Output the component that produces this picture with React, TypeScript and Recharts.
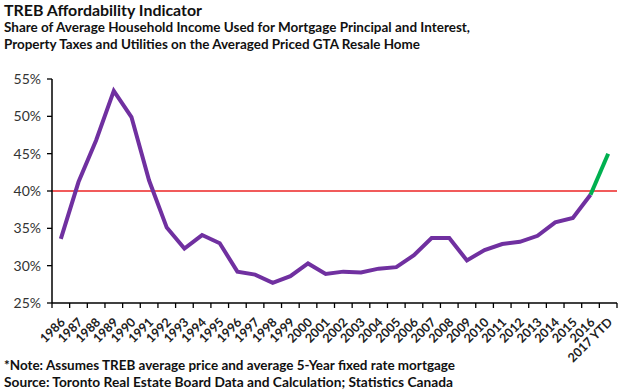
import React from 'react';
import { LineChart, Line, XAxis, YAxis, ReferenceLine } from 'recharts';

const years = [
  '1986', '1987', '1988', '1989', '1990', '1991', '1992', '1993', '1994', '1995', '1996',
  '1997', '1998', '1999', '2000', '2001', '2002', '2003', '2004', '2005', '2006', '2007',
  '2008', '2009', '2010', '2011', '2012', '2013', '2014', '2015', '2016', '2017 YTD',
];

// share of income (%), purple history line up to 2016
const history = [
  33.6, 41.2, 46.8, 53.4, 49.9, 41.4, 35.1, 32.3, 34.1, 33.0, 29.2,
  28.8, 27.7, 28.6, 30.3, 28.9, 29.2, 29.1, 29.6, 29.8, 31.4, 33.7,
  33.7, 30.7, 32.1, 32.9, 33.2, 34.0, 35.8, 36.4, 39.5, null,
];

// green segment 2016 -> 2017 YTD
const ytd = [
  null, null, null, null, null, null, null, null, null, null, null,
  null, null, null, null, null, null, null, null, null, null, null,
  null, null, null, null, null, null, null, null, 39.5, 45.0,
];

const yTicks = [25, 30, 35, 40, 45, 50, 55];
const threshold = 40;

const data = years.map((year, i) => ({ year, history: history[i], ytd: ytd[i] }));

const W = 620;
const H = 391;
const MARGIN = { top: 79, right: 3, left: 0, bottom: 0 };
const Y_AXIS_W = 52;
const X_AXIS_H = 88;
const STEP = (W - MARGIN.left - MARGIN.right - Y_AXIS_W) / years.length;

const FONT = 'Lato, "Open Sans", sans-serif';

const XTick = (props: any) => {
  const { x, y, payload, index } = props;
  const half = STEP / 2;
  const ax = x + 5;
  const ay = y + 20;
  return (
    <g>
      <line x1={x - half} x2={x - half} y1={y} y2={y + 5} stroke="#000" strokeWidth={1.3} />
      {index === years.length - 1 && (
        <line x1={x + half} x2={x + half} y1={y} y2={y + 5} stroke="#000" strokeWidth={1.3} />
      )}
      <text
        x={ax}
        y={ay}
        transform={`rotate(-45, ${ax}, ${ay})`}
        textAnchor="end"
        fontSize={12.5}
        fontWeight="bold"
        fontFamily={FONT}
        fill="#222"
      >
        {payload.value}
      </text>
    </g>
  );
};

const Caption = ({ x, y, size, len, children }: any) => (
  <text
    x={x}
    y={y}
    fontSize={size}
    fontWeight="bold"
    fontFamily={FONT}
    fill="#111"
    textLength={len}
    lengthAdjust="spacingAndGlyphs"
  >
    {children}
  </text>
);

export default function App() {
  return (
    <div style={{ position: 'absolute', left: 0, top: 0, width: W, height: H, background: '#fff' }}>
      <LineChart width={W} height={H} data={data} margin={MARGIN}>
        <XAxis
          dataKey="year"
          scale="band"
          interval={0}
          height={X_AXIS_H}
          tickSize={0}
          tickMargin={0}
          tickLine={false}
          axisLine={{ stroke: '#000', strokeWidth: 1.5 }}
          tick={<XTick />}
        />
        <YAxis
          domain={[25, 55]}
          ticks={yTicks}
          width={Y_AXIS_W}
          tickFormatter={(v: number) => `${v}%`}
          tickSize={5}
          tickMargin={6}
          axisLine={{ stroke: '#000', strokeWidth: 1.5 }}
          tickLine={{ stroke: '#000', strokeWidth: 1.3 }}
          tick={{ fill: '#333', fontSize: 14, fontFamily: FONT }}
        />
        <ReferenceLine y={threshold} stroke="#F15B5B" strokeWidth={1.8} />
        <Line
          dataKey="history"
          stroke="#7030A0"
          strokeWidth={4}
          dot={false}
          isAnimationActive={false}
        />
        <Line
          dataKey="ytd"
          stroke="#00B050"
          strokeWidth={4}
          dot={false}
          isAnimationActive={false}
        />
      </LineChart>
      <svg width={W} height={H} style={{ position: 'absolute', left: 0, top: 0, pointerEvents: 'none' }}>
        <Caption x={4} y={16} size={15} len={198}>TREB Affordability Indicator</Caption>
        <Caption x={4} y={32} size={12.5} len={466}>
          Share of Average Household Income Used for Mortgage Principal and Interest,
        </Caption>
        <Caption x={4} y={49} size={12.5} len={416}>
          Property Taxes and Utilities on the Averaged Priced GTA Resale Home
        </Caption>
        <Caption x={4} y={370} size={12.5} len={451}>
          *Note: Assumes TREB average price and average 5-Year fixed rate mortgage
        </Caption>
        <Caption x={4} y={387} size={12.5} len={449}>
          Source: Toronto Real Estate Board Data and Calculation; Statistics Canada
        </Caption>
      </svg>
    </div>
  );
}
